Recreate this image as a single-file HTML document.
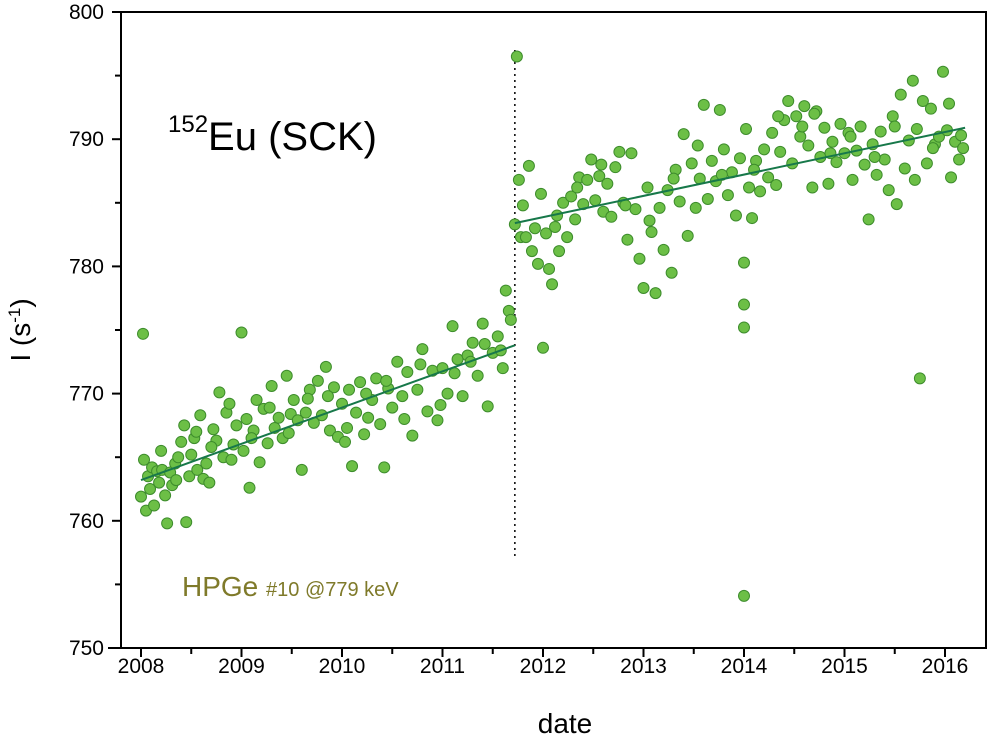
<!DOCTYPE html>
<html><head><meta charset="utf-8"><style>
body{margin:0;background:#fff}
svg{display:block;font-family:"Liberation Sans",Arial,sans-serif}
</style></head><body>
<svg id="chart" width="989" height="741">
<rect x="121" y="12" width="865" height="636" fill="none" stroke="#000" stroke-width="2"/>
<g id="ticks"></g>
<g id="marks"></g>
<text x="168" y="150" font-size="40"><tspan font-size="24" dy="-18">152</tspan><tspan dy="18">Eu (SCK)</tspan></text>
<text x="182" y="596" font-size="28" fill="#7f7a2a">HPGe <tspan font-size="20">#10 @779 keV</tspan></text>
<text x="565" y="733" font-size="28" text-anchor="middle">date</text>
<text transform="translate(30,330) rotate(-90)" font-size="28" text-anchor="middle">I (s<tspan font-size="17" dy="-10">-1</tspan><tspan dy="10">)</tspan></text>
</svg>
<script>
const xTicks=[2008,2009,2010,2011,2012,2013,2014,2015,2016];
const yTicks=[750,760,770,780,790,800];
const dates1=[2008.00,2008.02,2008.03,2008.05,2008.07,2008.09,2008.11,2008.13,2008.16,2008.18,2008.21,2008.24,2008.26,2008.29,2008.31,2008.34,2008.37,2008.40,2008.43,2008.45,2008.48,2008.50,2008.53,2008.56,2008.59,2008.62,2008.65,2008.68,2008.72,2008.75,2008.78,2008.82,2008.85,2008.88,2008.92,2008.95,2009.00,2009.02,2009.05,2009.08,2009.12,2009.15,2009.18,2009.22,2009.26,2009.30,2009.33,2009.37,2009.41,2009.45,2009.49,2009.52,2009.56,2009.60,2009.64,2009.68,2009.72,2009.76,2009.80,2009.84,2009.88,2009.92,2009.96,2010.00,2010.03,2010.07,2010.10,2010.14,2010.18,2010.22,2010.26,2010.30,2010.34,2010.38,2010.42,2010.46,2010.50,2010.55,2010.60,2010.65,2010.70,2010.75,2010.80,2010.85,2010.90,2010.95,2011.00,2011.05,2011.10,2011.15,2011.20,2011.25,2011.30,2011.35,2011.40,2011.45,2011.50,2011.55,2011.60,2011.63,2011.66,2011.68,
2008.20,2008.35,2008.55,2008.70,2008.90,2009.10,2009.28,2009.47,2009.66,2009.86,2010.05,2010.24,2010.44,2010.62,2010.78,2010.98,2011.12,2011.28,2011.42,2011.58];
const values1=[761.9,774.7,764.8,760.8,763.5,762.5,764.2,761.2,763.9,763.0,764.0,762.0,759.8,763.8,762.8,764.5,765.0,766.2,767.5,759.9,763.5,765.2,766.5,764.0,768.3,763.3,764.5,763.0,767.2,766.3,770.1,765.0,768.5,769.2,766.0,767.5,774.8,765.5,768.0,762.6,767.1,769.5,764.6,768.8,766.1,770.6,767.3,768.1,766.5,771.4,768.4,769.5,767.9,764.0,768.5,770.3,767.7,771.0,768.3,772.1,767.1,770.5,766.6,769.2,766.2,770.3,764.3,768.5,770.9,766.8,768.1,769.5,771.2,767.6,764.2,770.4,768.9,772.5,769.8,771.7,766.7,770.3,773.5,768.6,771.8,767.9,772.0,770.0,775.3,772.7,769.8,773.0,774.0,771.4,775.5,769.0,773.2,774.5,772.0,778.1,776.5,775.8,
765.5,763.2,767.0,765.8,764.8,766.5,768.9,766.9,769.6,769.8,767.3,770.0,771.0,768.0,772.3,769.1,771.6,772.5,773.9,773.4];
const dates2=[2011.72,2011.74,2011.76,2011.78,2011.80,2011.83,2011.86,2011.89,2011.92,2011.95,2011.98,2012.00,2012.03,2012.06,2012.09,2012.12,2012.16,2012.20,2012.24,2012.28,2012.32,2012.36,2012.40,2012.44,2012.48,2012.52,2012.56,2012.60,2012.64,2012.68,2012.72,2012.76,2012.80,2012.84,2012.88,2012.92,2012.96,2013.00,2013.04,2013.08,2013.12,2013.16,2013.20,2013.24,2013.28,2013.32,2013.36,2013.40,2013.44,2013.48,2013.52,2013.56,2013.60,2013.64,2013.68,2013.72,2013.76,2013.80,2013.84,2013.88,2013.92,2013.96,2014.00,2014.00,2014.00,2014.00,2014.02,2014.05,2014.08,2014.12,2014.16,2014.20,2014.24,2014.28,2014.32,2014.36,2014.40,2014.44,2014.48,2014.52,2014.56,2014.60,2014.64,2014.68,2014.72,2014.76,2014.80,2014.84,2014.88,2014.92,2014.96,2015.00,2015.04,2015.08,2015.12,2015.16,2015.20,2015.24,2015.28,2015.32,2015.36,2015.40,2015.44,2015.48,2015.52,2015.56,2015.60,2015.64,2015.68,2015.72,2015.75,2015.78,2015.82,2015.86,2015.90,2015.94,2015.98,2016.02,2016.06,2016.10,2016.14,2016.18,
2012.14,2012.34,2012.58,2012.82,2013.06,2013.30,2013.54,2013.78,2014.10,2014.34,2014.58,2014.70,2014.86,2015.06,2015.30,2015.50,2015.70,2015.88,2016.04,2016.16];
const values2=[783.3,796.5,786.8,782.3,784.8,782.3,787.9,781.2,783.0,780.2,785.7,773.6,782.6,779.8,778.6,783.1,781.2,785.0,782.3,785.5,783.7,787.0,784.9,786.8,788.4,785.2,787.1,784.3,786.5,783.9,787.8,789.0,785.0,782.1,788.9,784.5,780.6,778.3,786.2,782.7,777.9,784.6,781.3,786.0,779.5,787.6,785.1,790.4,782.4,788.1,784.6,786.9,792.7,785.3,788.3,786.7,792.3,789.2,785.6,787.4,784.0,788.5,754.1,775.2,777.0,780.3,790.8,786.2,783.8,788.3,785.9,789.2,787.0,790.5,786.4,789.0,791.5,793.0,788.1,791.8,790.2,792.6,789.5,786.2,792.2,788.6,790.9,786.5,789.8,788.2,791.2,788.9,790.5,786.8,789.1,791.0,788.0,783.7,789.6,787.2,790.6,788.4,786.0,791.8,784.9,793.5,787.7,789.9,794.6,790.8,771.2,793.0,788.1,792.4,789.6,790.2,795.3,790.7,787.0,789.8,788.4,789.3,
784.0,786.2,788.0,784.8,783.6,786.9,789.5,787.2,787.6,791.8,791.0,792.0,788.9,790.2,788.6,791.0,786.8,789.3,792.8,790.3];
const fit1=[[2008.0,763.2],[2011.72,773.8]];
const fit2=[[2011.72,783.4],[2016.2,790.9]];
const splitDate=2011.72;

const NS="http://www.w3.org/2000/svg";
const X=d=>141+(d-2008)*100.5;
const Y=v=>648-(v-750)*12.72;
function mk(tag,attrs,parent){const e=document.createElementNS(NS,tag);for(const k in attrs)e.setAttribute(k,attrs[k]);parent.appendChild(e);return e;}
const tg=document.getElementById('ticks'), mg=document.getElementById('marks');
mk('line',{x1:108,x2:121,y1:648,y2:648,stroke:'#000','stroke-width':2},tg);
xTicks.forEach(t=>{
  const l=mk('line',{x1:X(t),x2:X(t),y1:648,y2:657,stroke:'#000','stroke-width':2},tg);
  
  
  const m=mk('line',{x1:X(t+0.5),x2:X(t+0.5),y1:648,y2:654,stroke:'#000','stroke-width':2},tg);
  
  
  const tx=mk('text',{x:X(t),y:673,'font-size':21,'text-anchor':'middle'},tg);tx.textContent=t;
  
  
});
yTicks.forEach(t=>{
  const l=mk('line',{x1:112,x2:121,y1:Y(t),y2:Y(t),stroke:'#000','stroke-width':2},tg);
  
  
  if(t<800){const m=mk('line',{x1:115,x2:121,y1:Y(t+5),y2:Y(t+5),stroke:'#000','stroke-width':2},tg);
  
  }
  const tx=mk('text',{x:104,y:Y(t)+7,'font-size':21,'text-anchor':'end'},tg);tx.textContent=t;
  
  
});
const vl=mk('line',{x1:X(splitDate),x2:X(splitDate),y1:50,y2:556,stroke:'#000','stroke-width':1.5,'stroke-dasharray':'2,4'},mg);


function pts(ds,vs){ds.forEach((d,i)=>{
  const c=mk('circle',{cx:X(d),cy:Y(vs[i]),r:5.5,fill:'#6cbf46',stroke:'#3d8c2c','stroke-width':1},mg);
  
  
});}
pts(dates1,values1);pts(dates2,values2);
[fit1,fit2].forEach(f=>{
  const l=mk('line',{x1:X(f[0][0]),y1:Y(f[0][1]),x2:X(f[1][0]),y2:Y(f[1][1]),stroke:'#17784a','stroke-width':2},mg);
  
  
});
</script>
</body></html>
